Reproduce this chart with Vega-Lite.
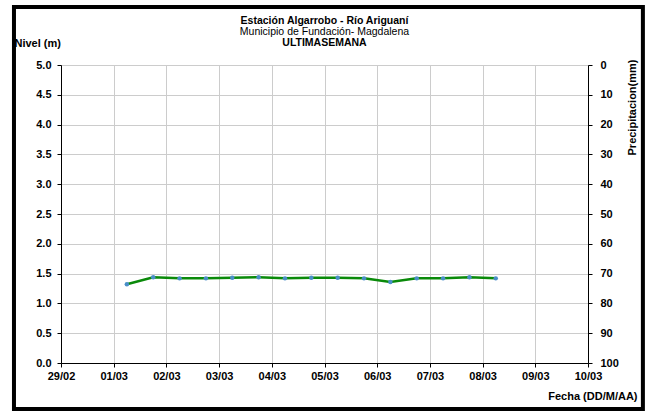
{
  "$schema": "https://vega.github.io/schema/vega-lite/v6.json",
  "width": 527,
  "height": 298,
  "autosize": {"type": "none"},
  "padding": {"left": 61, "top": 65, "right": 66, "bottom": 52},
  "background": "white",
  "config": {
    "view": {"stroke": "#a0a0a0", "strokeWidth": 1},
    "font": "Liberation Sans",
    "axis": {
      "labelFont": "Liberation Sans",
      "labelFontWeight": "bold",
      "labelFontSize": 11,
      "labelColor": "black",
      "labelFlush": false,
      "labelOverlap": false,
      "titleFont": "Liberation Sans",
      "titleFontWeight": "bold",
      "titleFontSize": 11,
      "titleColor": "black",
      "domainColor": "black",
      "tickColor": "black",
      "gridColor": "#cccccc",
      "tickSize": 4
    }
  },
  "layer": [
    {
      "data": {
        "values": [
          {"t": "2016-03-01T06:00", "nivel": 1.32},
          {"t": "2016-03-01T18:00", "nivel": 1.44},
          {"t": "2016-03-02T06:00", "nivel": 1.42},
          {"t": "2016-03-02T18:00", "nivel": 1.42},
          {"t": "2016-03-03T06:00", "nivel": 1.43},
          {"t": "2016-03-03T18:00", "nivel": 1.44},
          {"t": "2016-03-04T06:00", "nivel": 1.42},
          {"t": "2016-03-04T18:00", "nivel": 1.43},
          {"t": "2016-03-05T06:00", "nivel": 1.43},
          {"t": "2016-03-05T18:00", "nivel": 1.42},
          {"t": "2016-03-06T06:00", "nivel": 1.36},
          {"t": "2016-03-06T18:00", "nivel": 1.42},
          {"t": "2016-03-07T06:00", "nivel": 1.42},
          {"t": "2016-03-07T18:00", "nivel": 1.44},
          {"t": "2016-03-08T06:00", "nivel": 1.42}
        ]
      },
      "layer": [
        {
          "mark": {"type": "line", "color": "#0a8a0a", "strokeWidth": 2.5},
          "encoding": {
            "x": {
              "field": "t",
              "type": "temporal",
              "scale": {"domain": [{"year": 2016, "month": 2, "date": 29}, {"year": 2016, "month": 3, "date": 10}]},
              "axis": {
                "format": "%d/%m",
                "tickCount": {"interval": "day", "step": 1},
                "grid": true,
                "labelPadding": 3,
                "labelAngle": 0,
                "title": "Fecha (DD/M/AA)",
                "titleAnchor": "end",
                "titleAlign": "right",
                "titleX": 576,
                "titleY": 33,
                "titleBaseline": "middle"
              }
            },
            "y": {
              "field": "nivel",
              "type": "quantitative",
              "scale": {"domain": [0, 5], "nice": false},
              "axis": {
                "values": [0, 0.5, 1, 1.5, 2, 2.5, 3, 3.5, 4, 4.5, 5],
                "format": ".1f",
                "grid": true,
                "labelPadding": 6,
                "title": "Nivel (m)",
                "titleAngle": 0,
                "titleAlign": "left",
                "titleBaseline": "middle",
                "titleX": -47,
                "titleY": -22
              }
            }
          }
        },
        {
          "mark": {"type": "point", "filled": true, "color": "#4a8fc8", "size": 20, "opacity": 1},
          "encoding": {
            "x": {"field": "t", "type": "temporal"},
            "y": {"field": "nivel", "type": "quantitative", "axis": {"values": [0, 0.5, 1, 1.5, 2, 2.5, 3, 3.5, 4, 4.5, 5]}}
          }
        },
        {
          "data": {"values": [{}]},
          "mark": {"type": "rect", "fill": null, "fillOpacity": 0, "stroke": "black", "strokeWidth": 4, "clip": false},
          "encoding": {
            "x": {"datum": {"year": 2016, "month": 2, "date": 28, "hours": 2, "minutes": 35}, "type": "temporal"},
            "x2": {"datum": {"year": 2016, "month": 3, "date": 11, "hours": 1, "minutes": 0}},
            "y": {"datum": 5.973, "type": "quantitative", "axis": {"values": [0, 0.5, 1, 1.5, 2, 2.5, 3, 3.5, 4, 4.5, 5]}},
            "y2": {"datum": -0.772}
          }
        },
        {
          "data": {"values": [{}]},
          "mark": {"type": "text", "font": "Liberation Sans", "fontSize": 10.5, "fontWeight": "bold", "align": "center", "baseline": "middle", "clip": false},
          "encoding": {
            "x": {"datum": {"year": 2016, "month": 3, "date": 5}, "type": "temporal"},
            "y": {"datum": 5.74, "type": "quantitative", "axis": {"values": [0, 0.5, 1, 1.5, 2, 2.5, 3, 3.5, 4, 4.5, 5]}},
            "text": {"value": "Estación Algarrobo - Río Ariguaní"}
          }
        },
        {
          "data": {"values": [{}]},
          "mark": {"type": "text", "font": "Liberation Sans", "fontSize": 10.5, "fontWeight": "normal", "align": "center", "baseline": "middle", "clip": false},
          "encoding": {
            "x": {"datum": {"year": 2016, "month": 3, "date": 5}, "type": "temporal"},
            "y": {"datum": 5.554, "type": "quantitative", "axis": {"values": [0, 0.5, 1, 1.5, 2, 2.5, 3, 3.5, 4, 4.5, 5]}},
            "text": {"value": "Municipio de Fundación- Magdalena"}
          }
        },
        {
          "data": {"values": [{}]},
          "mark": {"type": "text", "font": "Liberation Sans", "fontSize": 10.5, "fontWeight": "bold", "align": "center", "baseline": "middle", "clip": false},
          "encoding": {
            "x": {"datum": {"year": 2016, "month": 3, "date": 5}, "type": "temporal"},
            "y": {"datum": 5.368, "type": "quantitative", "axis": {"values": [0, 0.5, 1, 1.5, 2, 2.5, 3, 3.5, 4, 4.5, 5]}},
            "text": {"value": "ULTIMASEMANA"}
          }
        }
      ]
    },
    {
      "data": {"values": [{"p": 0}, {"p": 100}]},
      "mark": {"type": "point", "opacity": 0},
      "encoding": {
        "y": {
          "field": "p",
          "type": "quantitative",
          "scale": {"domain": [0, 100], "reverse": true, "nice": false},
          "axis": {
            "orient": "right",
            "values": [0, 10, 20, 30, 40, 50, 60, 70, 80, 90, 100],
            "grid": false,
            "labelPadding": 8,
            "title": "Precipitacion(mm)",
            "titleAngle": -90,
            "titleAlign": "center",
            "titleBaseline": "middle",
            "titleX": 44,
            "titleY": 42
          }
        }
      }
    }
  ],
  "resolve": {"scale": {"y": "independent"}}
}
